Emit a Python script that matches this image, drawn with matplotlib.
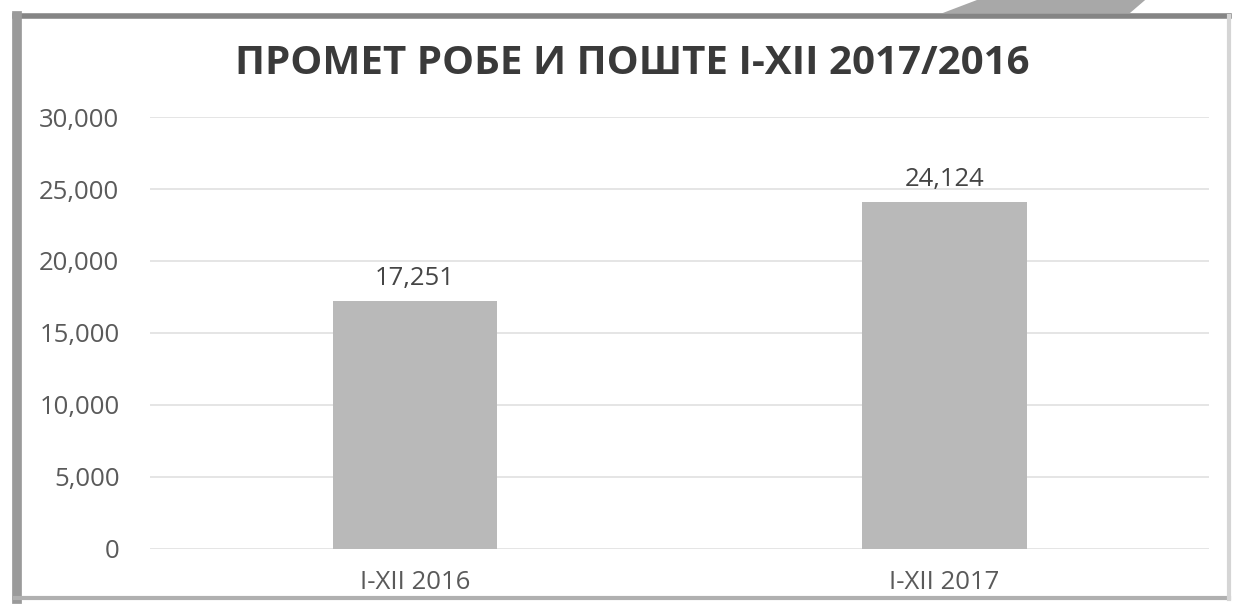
import matplotlib
matplotlib.use('Agg')
import matplotlib.pyplot as plt
from matplotlib.patches import Polygon
from matplotlib.lines import Line2D
from matplotlib.ticker import FuncFormatter

categories = ['I-XII 2016', 'I-XII 2017']
values = [17251, 24124]
yticks = [0, 5000, 10000, 15000, 20000, 25000, 30000]
title = 'ПРОМЕТ РОБЕ И ПОШТЕ I-XII 2017/2016'

plt.rcParams['font.family'] = ['Open Sans', 'DejaVu Sans']

fig = plt.figure(figsize=(12.34, 6.05), dpi=100)
ax = fig.add_axes([0.1216, 0.0926, 0.8584, 0.714])

x = range(len(categories))
bars = ax.bar(x, values, width=0.31, color='#b9b9b9', zorder=3)
for b, v in zip(bars, values):
    ax.text(b.get_x() + b.get_width() / 2, v + 650, f'{v:,}',
            ha='center', va='bottom', fontsize=18.5, color='#454545')

ax.set_xlim(-0.5, 1.5)
ax.set_ylim(0, 30000)
ax.set_yticks(yticks)
ax.yaxis.set_major_formatter(FuncFormatter(lambda v, p: f'{int(v):,}'))
ax.set_xticks(list(x))
ax.set_xticklabels(categories)
ax.tick_params(axis='both', length=0, labelsize=18.5, labelcolor='#5a5a5a')
ax.tick_params(axis='y', pad=22)
ax.tick_params(axis='x', pad=15)
ax.grid(axis='y', color='#e0e0e0', linewidth=1.2, zorder=0)
for s in ax.spines.values():
    s.set_visible(False)

fig.text(0.512, 0.895, title, ha='center', va='center', fontsize=29,
         fontweight='bold', color='#3a3a3a')

# scanned frame around the chart
tf = fig.transFigure
fig.lines.append(Line2D([0.012, 0.996], [0.9736, 0.9736], transform=tf, color='#858585', lw=4))
fig.lines.append(Line2D([0.0135, 0.0135], [0.01, 0.9736], transform=tf, color='#9a9a9a', lw=7))
fig.lines.append(Line2D([0.012, 0.996], [0.011, 0.011], transform=tf, color='#b0b0b0', lw=3))
fig.lines.append(Line2D([0.996, 0.996], [0.01, 0.9736], transform=tf, color='#d5d5d5', lw=3))
fig.patches.append(Polygon([(0.764, 0.9785), (0.7917, 1.0), (0.928, 1.0), (0.9157, 0.9785)],
                           closed=True, transform=tf, facecolor='#a8a8a8', edgecolor='none'))

fig.savefig('out.png', dpi=100)
